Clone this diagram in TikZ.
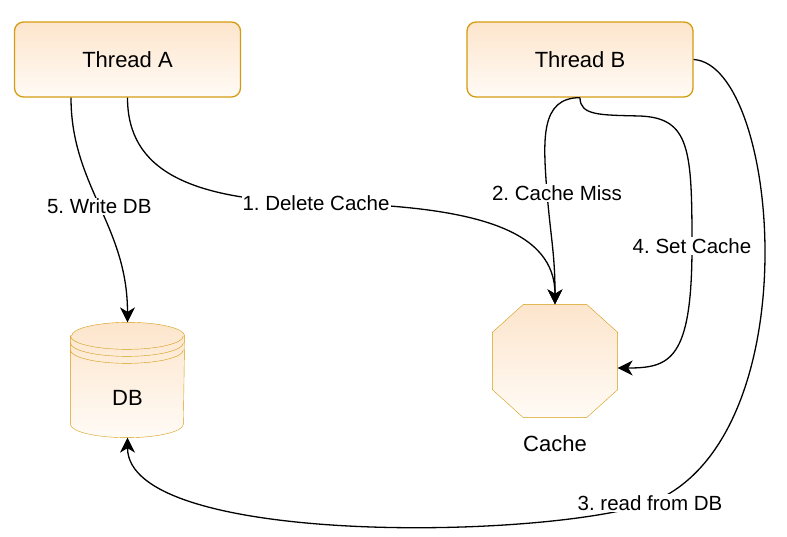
\documentclass[tikz,border=0pt]{standalone}
\usepackage{fontspec}
\setmainfont{Liberation Sans}
\frenchspacing
\definecolor{drawborder}{RGB}{212,156,16}
\definecolor{drawtop}{RGB}{253,229,204}
\definecolor{drawbottom}{RGB}{255,251,246}
\usetikzlibrary{calc}
\usetikzlibrary{arrows.meta,backgrounds}

\begin{document}
\begin{tikzpicture}[x=1pt, y=-1pt, line width=1.3pt,
  >={Stealth[length=15pt,width=15pt,inset=4.5pt]},
  outline/.style={draw=drawborder, top color=drawtop, bottom color=drawbottom},
  thread/.style={outline, rounded corners=9pt, minimum width=226pt, minimum height=75pt, font=\fontsize{22}{26}\selectfont},
  shapebox/.style={inner sep=0pt},
  shapetext/.style={font=\fontsize{22}{26}\selectfont},
  edgelabel/.style={fill=white, inner sep=1pt, font=\fontsize{20.5}{24}\selectfont}]
  \useasboundingbox (0,0) rectangle (787,536);

  \node [thread] (threada) at (127.5,59.5) {Thread A};
  \node [thread] (threadb) at (580,59.5) {Thread B};
  \node [shapebox, minimum width=113pt, minimum height=114pt,
         label={[shapetext, yshift=-18pt]center:DB}] (db) at (127.5,380) {};
  \node [shapebox, minimum width=124pt, minimum height=112pt,
         label={[shapetext, label distance=14pt]below:Cache}] (cache) at (555,361) {};

  \begin{scope}[on background layer]
    % cylinder for the DB
    \path [outline] ([yshift=-13.5pt]db.north west) -- ([yshift=13.5pt]db.south west)
      arc [start angle=180, end angle=360, x radius=56.5pt, y radius=13.5pt]
      -- ([yshift=-13.5pt]db.north east)
      arc [start angle=0, end angle=180, x radius=56.5pt, y radius=13.5pt] -- cycle;
    \foreach \s in {13.5,20.5,27.5}
      \draw [drawborder] ([yshift=-\s pt]db.north west)
        arc [start angle=180, end angle=360, x radius=56.5pt, y radius=13.5pt];
    % octagon for the cache
    \path [outline] ($(cache.north west)+(31,0)$) -- ($(cache.north east)+(-31,0)$)
      -- ($(cache.north east)+(0,28)$) -- ($(cache.south east)+(0,-28)$)
      -- ($(cache.south east)+(-31,0)$) -- ($(cache.south west)+(31,0)$)
      -- ($(cache.south west)+(0,-28)$) -- ($(cache.north west)+(0,28)$) -- cycle;
  \end{scope}

  \draw [->] (threada.south) .. controls +(0,73) and (190,200) .. (316,203)
    node [edgelabel] {1. Delete Cache}
    .. controls (480,205) and +(0,-73) .. (cache.north);
  \draw [->] (threadb.south) .. controls +(-40,0) and (543,140) .. (547,193)
    node [edgelabel, xshift=10pt] {2. Cache Miss}
    .. controls (551,240) and +(0,-50) .. (cache.north);
  \draw [->] (threadb.east) .. controls (780,65) and (812,440) .. (650,503)
    node [edgelabel] {3. read from DB}
    .. controls (540,540) and +(0,108) .. (db.south);
  \draw [->] (threadb.south) .. controls +(0,18) and (600,115) .. (640,116)
    .. controls (690,118) and (692,150) .. (692,246)
    node [edgelabel] {4. Set Cache}
    .. controls (692,360) and (670,368) .. ([yshift=-7pt]cache.east);
  \draw [->] ([xshift=-56.5pt]threada.south) .. controls +(0,88) and +(0,-97) .. (db.north)
    node [edgelabel, midway] {5. Write DB};

\end{tikzpicture}
\end{document}
